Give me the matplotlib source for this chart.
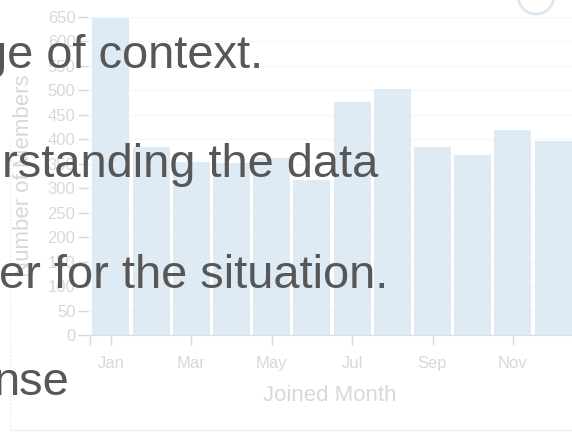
import matplotlib
matplotlib.use('Agg')
import matplotlib.pyplot as plt
from matplotlib.patches import Ellipse
from matplotlib.lines import Line2D

# ---- data ----
months = ['Jan', 'Feb', 'Mar', 'Apr', 'May', 'Jun',
          'Jul', 'Aug', 'Sep', 'Oct', 'Nov', 'Dec']
members = [648, 384, 354, 352, 362, 317, 476, 503, 384, 368, 419, 397]
tick_months = ['Jan', 'Mar', 'May', 'Jul', 'Sep', 'Nov']
y_ticks = list(range(0, 651, 50))
overlay_lines = ["ge of context.", "rstanding the data",
                 "er for the situation.", "nse"]

W, H = 572, 433
fig = plt.figure(figsize=(W / 100, H / 100), dpi=100)
fig.patch.set_facecolor('white')

ax = fig.add_axes([88 / W, (H - 335) / H, (572 - 88) / W, (335 - 17) / H])
xpos = list(range(len(months)))
ax.bar(xpos, members, width=0.92, color='#deeaf4', zorder=2)
ax.set_xlim(-0.57, 11.47)
ax.set_ylim(0, 650)

ax.set_xticks([months.index(m) for m in tick_months])
ax.set_xticklabels(tick_months)
ax.set_xticks([-0.52], minor=True)
ax.set_yticks(y_ticks)
ax.set_yticklabels([str(v) for v in y_ticks])

lab_col = '#d8d8d8'
ax.tick_params(axis='both', which='both', colors='#d8d8d8', labelcolor=lab_col,
               labelsize=12, length=7, width=1)
ax.tick_params(axis='y', pad=2)
ax.tick_params(axis='x', pad=8)
for s in ['left', 'top', 'right']:
    ax.spines[s].set_visible(False)
ax.spines['bottom'].set_color('#dedede')
ax.set_axisbelow(True)
ax.yaxis.grid(True, color='#f6f6f6', linewidth=1, zorder=0)

ax.set_xlabel('Joined Month', fontsize=16, color=lab_col, labelpad=10,
              family='Liberation Sans')
ax.set_ylabel('Number of Members', fontsize=16, color=lab_col, labelpad=10,
              family='Liberation Sans')
for t in ax.get_xticklabels() + ax.get_yticklabels():
    t.set_family('Liberation Sans')

# faint frame remnants
fig.add_artist(Line2D([10 / W, 10 / W], [1 - 430 / H, 1 - 140 / H],
                      transform=fig.transFigure, color='#ececec',
                      linewidth=1, linestyle=':'))
fig.add_artist(Line2D([10 / W, 1], [1 - 430 / H, 1 - 430 / H],
                      transform=fig.transFigure, color='#f0f0f0', linewidth=1))
fig.add_artist(Ellipse((536 / W, 1 + 4 / H), 36 / W, 36 / H,
                       transform=fig.transFigure, fill=False,
                       edgecolor='#dde8f1', linewidth=2))

# overlay text fragments (right ends, baselines in pixels)
ends = [(263, 68), (378, 177), (388, 288), (70, 395)]
for s, (xe, yb) in zip(overlay_lines, ends):
    fig.text(xe / W, 1 - yb / H, s, ha='right', va='baseline',
             fontsize=33.8, color='#575757', family='Liberation Sans')

fig.savefig('out.png', dpi=100)
